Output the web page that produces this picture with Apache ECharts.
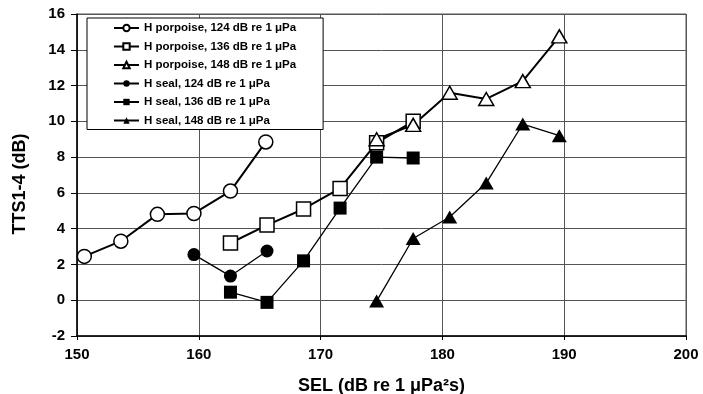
<!DOCTYPE html>
<html>
<head>
<meta charset="utf-8">
<script src="https://cdn.jsdelivr.net/npm/echarts@6/dist/echarts.min.js"></script>
<style>html,body{margin:0;padding:0;background:#fff;}#c{width:703px;height:394px;}</style>
</head>
<body>
<div id="c"></div>
<script>
var xTicks = [150, 160, 170, 180, 190, 200];
var yTicks = [-2, 0, 2, 4, 6, 8, 10, 12, 14, 16];

var porpoise124X = [150.6, 153.6, 156.6, 159.6, 162.6, 165.5];
var porpoise124Y = [2.45, 3.3, 4.8, 4.85, 6.1, 8.85];
var porpoise136X = [162.6, 165.6, 168.6, 171.6, 174.6, 177.6];
var porpoise136Y = [3.2, 4.2, 5.1, 6.25, 8.8, 10.0];
var porpoise148X = [174.6, 177.6, 180.6, 183.6, 186.6, 189.6];
var porpoise148Y = [9.0, 9.8, 11.6, 11.25, 12.25, 14.75];
var seal124X = [159.6, 162.6, 165.6];
var seal124Y = [2.55, 1.35, 2.75];
var seal136X = [162.6, 165.6, 168.6, 171.6, 174.6, 177.6];
var seal136Y = [0.45, -0.12, 2.2, 5.15, 8.0, 7.95];
var seal148X = [174.6, 177.6, 180.6, 183.6, 186.6, 189.6];
var seal148Y = [-0.05, 3.45, 4.65, 6.55, 9.85, 9.2];

var names = [
  'H porpoise, 124 dB re 1 μPa',
  'H porpoise, 136 dB re 1 μPa',
  'H porpoise, 148 dB re 1 μPa',
  'H seal, 124 dB re 1 μPa',
  'H seal, 136 dB re 1 μPa',
  'H seal, 148 dB re 1 μPa'
];

function pairs(xs, ys) { return xs.map(function (x, i) { return [x, ys[i]]; }); }

function mk(name, xs, ys, symbol, size, hollow, lw) {
  return {
    name: name, type: 'line', data: pairs(xs, ys),
    symbol: symbol, symbolSize: size, showSymbol: true,
    lineStyle: { color: '#000', width: lw },
    itemStyle: hollow ? { color: '#fff', borderColor: '#000', borderWidth: 1.5 } : { color: '#000', borderColor: '#000', borderWidth: 0 },
    emphasis: { disabled: true },
    animation: false, z: 3
  };
}

var chart = echarts.init(document.getElementById('c'));
var font = '"Liberation Sans", Arial, sans-serif';
chart.setOption({
  animation: false,
  textStyle: { fontFamily: font },
  grid: { left: 77, right: 17, top: 14, bottom: 58, show: true, borderColor: '#555', borderWidth: 1, containLabel: false, outerBoundsMode: 'none' },
  xAxis: {
    type: 'value', min: xTicks[0], max: xTicks[xTicks.length - 1], interval: 10,
    name: 'SEL (dB re 1 μPa²s)', nameLocation: 'middle', nameGap: 41,
    nameTextStyle: { fontFamily: font, fontWeight: 'bold', fontSize: 18, color: '#000' },
    axisLine: { show: true, onZero: false, lineStyle: { color: '#000', width: 1.5 } },
    axisTick: { show: true, length: 4, lineStyle: { color: '#000' } },
    axisLabel: { fontFamily: font, fontWeight: 'bold', fontSize: 15, color: '#000', margin: 11 },
    splitLine: { show: true, lineStyle: { color: '#555', width: 1 } }
  },
  yAxis: {
    type: 'value', min: yTicks[0], max: yTicks[yTicks.length - 1], interval: 2,
    name: 'TTS1-4 (dB)', nameLocation: 'middle', nameGap: 48, nameRotate: 90,
    nameTextStyle: { fontFamily: font, fontWeight: 'bold', fontSize: 18, color: '#000', padding: [0, 18, 0, 0] },
    axisLine: { show: true, onZero: false, lineStyle: { color: '#000', width: 1.5 } },
    axisTick: { show: true, length: 6, lineStyle: { color: '#000' } },
    axisLabel: { fontFamily: font, fontWeight: 'bold', fontSize: 15, color: '#000', margin: 12 },
    splitLine: { show: true, lineStyle: { color: '#555', width: 1 } }
  },
  legend: {
    orient: 'vertical', left: 87, top: 18,
    backgroundColor: '#fff', borderColor: '#000', borderWidth: 1,
    padding: [4, 27, 3, 26], itemGap: 6.5, itemWidth: 25, itemHeight: 8,
    selectedMode: false,
    textStyle: { fontFamily: font, fontWeight: 'bold', fontSize: 11.5, color: '#000' },
    data: names
  },
  series: [
    mk(names[0], porpoise124X, porpoise124Y, 'circle', 14, true, 2),
    mk(names[1], porpoise136X, porpoise136Y, 'rect', 14, true, 2),
    mk(names[2], porpoise148X, porpoise148Y, 'triangle', [15, 13], true, 2),
    mk(names[3], seal124X, seal124Y, 'circle', 13, false, 1.3),
    mk(names[4], seal136X, seal136Y, 'rect', 13, false, 1.3),
    mk(names[5], seal148X, seal148Y, 'triangle', [15, 13], false, 1.3)
  ]
});
</script>
</body>
</html>
